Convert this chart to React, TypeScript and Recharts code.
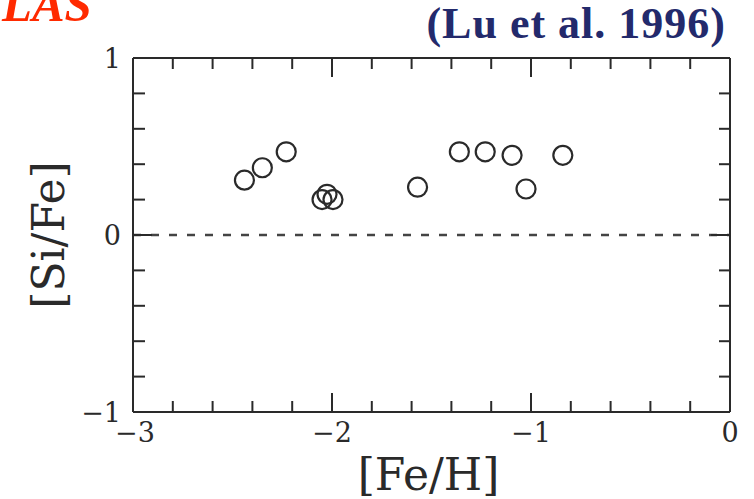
import React from 'react';
import {
  ScatterChart,
  Scatter,
  XAxis,
  YAxis,
  ReferenceLine,
  Label,
} from 'recharts';

// [Fe/H] and [Si/Fe] for each absorber
const feH = [-2.44, -2.35, -2.23, -2.05, -2.025, -1.995, -1.57, -1.36, -1.23, -1.095, -1.025, -0.84];
const siFe = [0.31, 0.38, 0.47, 0.2, 0.23, 0.2, 0.27, 0.47, 0.47, 0.45, 0.26, 0.45];

const xTicks = [-3, -2.8, -2.6, -2.4, -2.2, -2, -1.8, -1.6, -1.4, -1.2, -1, -0.8, -0.6, -0.4, -0.2, 0];
const yTicks = [-1, -0.8, -0.6, -0.4, -0.2, 0, 0.2, 0.4, 0.6, 0.8, 1];
const xLabels: Record<string, string> = { '-3': '\u22123', '-2': '\u22122', '-1': '\u22121', '0': '0' };
const yLabels: Record<string, string> = { '-1': '\u22121', '0': '0', '1': '1' };

const points = feH.map((x, i) => ({ x, y: siFe[i] }));

const INK = '#2a2a2a';
const FONT = '"DejaVu Serif", serif';

const isMajor = (v: number) => Math.abs(v - Math.round(v)) < 1e-6;

const BottomTick = (props: any) => {
  const { x, y, payload } = props;
  const v = payload.value;
  const len = isMajor(v) ? 19 : 11;
  const label = xLabels[String(v)];
  return (
    <g>
      {v !== -3 && v !== 0 && <line x1={x} y1={y} x2={x} y2={y - len} stroke={INK} strokeWidth={2} />}
      {label && (
        <text x={v === -3 ? x + 2 : x} y={y + 30} textAnchor="middle" fontFamily={FONT} fontSize={27} fill={INK}>
          {label}
        </text>
      )}
    </g>
  );
};

const TopTick = (props: any) => {
  const { x, y, payload } = props;
  const v = payload.value;
  if (v === -3 || v === 0) return null;
  const len = isMajor(v) ? 19 : 11;
  return <line x1={x} y1={y} x2={x} y2={y + len} stroke={INK} strokeWidth={2} />;
};

const LeftTick = (props: any) => {
  const { x, y, payload } = props;
  const v = payload.value;
  const len = v === 0 ? 19 : 12;
  const label = yLabels[String(v)];
  return (
    <g>
      {Math.abs(v) !== 1 && <line x1={x} y1={y} x2={x + len} y2={y} stroke={INK} strokeWidth={2} />}
      {label && (
        <text x={x - 12} y={y + 10} textAnchor="end" fontFamily={FONT} fontSize={27} fill={INK}>
          {label}
        </text>
      )}
    </g>
  );
};

const RightTick = (props: any) => {
  const { x, y, payload } = props;
  const v = payload.value;
  if (Math.abs(v) === 1) return null;
  const len = v === 0 ? 19 : 11;
  return <line x1={x} y1={y} x2={x - len} y2={y} stroke={INK} strokeWidth={2} />;
};

const Ring = (props: any) => (
  <circle cx={props.cx} cy={props.cy} r={9.5} fill="none" stroke={INK} strokeWidth={2.2} />
);

export default function App() {
  return (
    <div style={{ position: 'absolute', left: 0, top: 0, width: 754, height: 499, background: '#fff', overflow: 'hidden' }}>
      <div
        style={{
          position: 'absolute', left: 2, top: -15, color: '#ff2a00',
          font: 'italic bold 49px "Liberation Serif", serif', lineHeight: '40px',
        }}
      >
        LAS
      </div>
      <div
        style={{
          position: 'absolute', right: 28, top: 0, color: '#232a6c', letterSpacing: 1,
          font: 'bold 44px "Liberation Serif", serif', lineHeight: '48px',
        }}
      >
        (Lu et al. 1996)
      </div>
      <ScatterChart width={754} height={499} margin={{ top: 57, right: 23, bottom: 86, left: 132 }}>
        <XAxis
          xAxisId="b" type="number" dataKey="x" domain={[-3, 0]} ticks={xTicks} interval={0}
          height={1} tickSize={0} tickMargin={0} tick={<BottomTick />} tickLine={false}
          axisLine={{ stroke: INK, strokeWidth: 2 }} allowDataOverflow
        >
          <Label
            content={({ viewBox }: any) => (
              <text x={viewBox.x + viewBox.width / 2 - 3} y={viewBox.y + 78} textAnchor="middle" fontFamily={FONT} fontSize={44} fill={INK}>
                [Fe/H]
              </text>
            )}
          />
        </XAxis>
        <XAxis
          xAxisId="t" orientation="top" type="number" dataKey="x" domain={[-3, 0]} ticks={xTicks} interval={0}
          height={1} tickSize={0} tickMargin={0} tick={<TopTick />} tickLine={false}
          axisLine={{ stroke: INK, strokeWidth: 2 }} allowDataOverflow
        />
        <YAxis
          yAxisId="l" type="number" dataKey="y" domain={[-1, 1]} ticks={yTicks} interval={0}
          width={1} tickSize={0} tickMargin={0} tick={<LeftTick />} tickLine={false}
          axisLine={{ stroke: INK, strokeWidth: 2 }} allowDataOverflow
        >
          <Label
            content={({ viewBox }: any) => {
              const cx = 64;
              const cy = viewBox.y + viewBox.height / 2;
              return (
                <text x={cx} y={cy} textAnchor="middle" fontFamily={FONT} fontSize={44} fill={INK} transform={`rotate(-90, ${cx}, ${cy})`}>
                  [Si/Fe]
                </text>
              );
            }}
          />
        </YAxis>
        <YAxis
          yAxisId="r" orientation="right" type="number" dataKey="y" domain={[-1, 1]} ticks={yTicks} interval={0}
          width={1} tickSize={0} tickMargin={0} tick={<RightTick />} tickLine={false}
          axisLine={{ stroke: INK, strokeWidth: 2 }} allowDataOverflow
        />
        <ReferenceLine xAxisId="b" yAxisId="l" y={0} stroke="#444" strokeWidth={2.5} strokeDasharray="8 10" />
        <Scatter xAxisId="b" yAxisId="l" data={points} shape={<Ring />} isAnimationActive={false} />
      </ScatterChart>
    </div>
  );
}
